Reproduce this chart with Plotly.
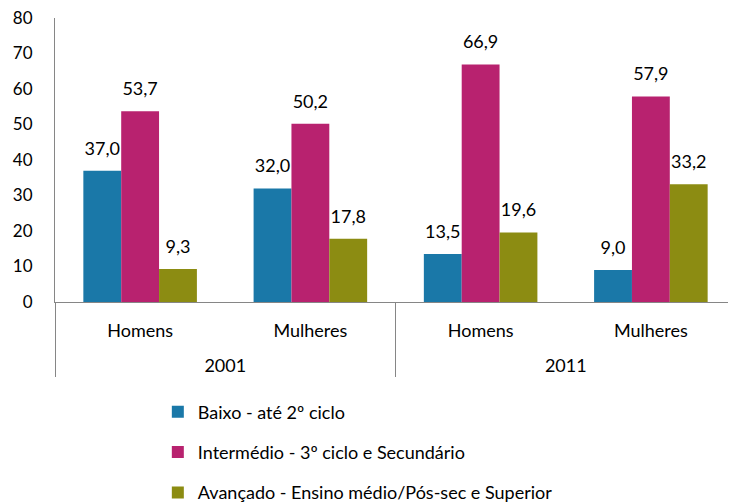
import plotly.graph_objects as go

anos = ["2001", "2001", "2011", "2011"]
sexo = ["Homens", "Mulheres", "Homens", "Mulheres"]
baixo = [37.0, 32.0, 13.5, 9.0]
intermedio = [53.7, 50.2, 66.9, 57.9]
avancado = [9.3, 17.8, 19.6, 33.2]
series = [
    ("Baixo - até 2º ciclo", baixo, "#1a78a8"),
    ("Intermédio - 3º ciclo e Secundário", intermedio, "#b8226f"),
    ("Avançado - Ensino médio/Pós-sec e Superior", avancado, "#8c8c12"),
]

# year level pushed down one line, like the original
x_cat = [["<br>" + a for a in anos], sexo]

fig = go.Figure()
for i, (nome, vals, cor) in enumerate(series):
    fig.add_trace(go.Bar(
        x=x_cat,
        y=vals,
        name=nome,
        legendgroup="g%d" % i,
        marker=dict(color=cor, line=dict(width=0)),
        hoverinfo="skip",
    ))
# value labels sit well above the bars, so they go on a grouped text layer
for i, (nome, vals, cor) in enumerate(series):
    fig.add_trace(go.Scatter(
        x=x_cat,
        y=vals,
        mode="markers+text",
        marker=dict(size=17, opacity=0),
        texttemplate="%{y:.1f}",
        textposition="top center",
        textfont=dict(size=18, color="#000000"),
        showlegend=False,
        cliponaxis=False,
    ))

# page body adds 8px, so the figure is 8px smaller each way
fig.update_layout(
    width=728, height=495,
    margin=dict(l=47, r=0, t=10, b=201, autoexpand=False),
    paper_bgcolor="white",
    plot_bgcolor="white",
    font=dict(family="Lato", size=18, color="#000000"),
    separators=",.",
    barmode="group",
    bargap=0.333,
    bargroupgap=0,
    scattermode="group",
    scattergap=0.333,
    legend=dict(
        x=0.151, y=-0.322, xanchor="left", yanchor="top",
        orientation="v", tracegroupgap=14,
        font=dict(size=18),
        itemwidth=30,
    ),
)
fig.update_yaxes(
    range=[0, 80], dtick=10, showgrid=False, zeroline=False,
    showline=True, linecolor="#868686", linewidth=1,
    ticks="", tickfont=dict(size=17), ticklabelstandoff=18,
    ticklabeloverflow="allow",
)
fig.update_xaxes(
    showline=True, linecolor="#868686", linewidth=1,
    showdividers=True, dividercolor="#868686", dividerwidth=1,
    tickfont=dict(size=18), ticks="", ticklabelstandoff=12, tickangle=0,
)

fig.write_html("out.html")
